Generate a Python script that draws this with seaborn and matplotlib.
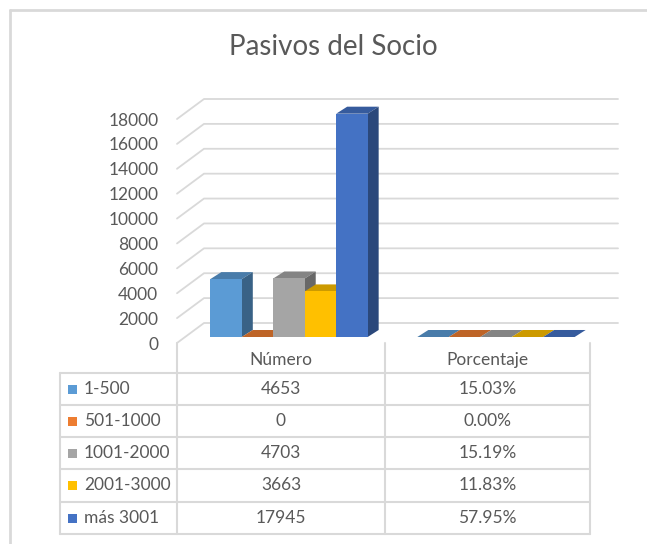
import matplotlib
matplotlib.use("Agg")
import matplotlib.pyplot as plt
import matplotlib.colors as mcolors
import numpy as np
import pandas as pd
import seaborn as sns
from matplotlib.patches import Polygon, Rectangle

# data
rangos = ["1-500", "501-1000", "1001-2000", "2001-3000", "más 3001"]
numero = [4653, 0, 4703, 3663, 17945]
porcentaje = [15.03, 0.00, 15.19, 11.83, 57.95]
medidas = ["Número", "Porcentaje"]
colores = ["#5B9BD5", "#ED7D31", "#A5A5A5", "#FFC000", "#4472C4"]
yticks = list(range(0, 18001, 2000))

W, H = 647, 544
sns.set_theme(style="white")
plt.rcParams["font.family"] = ["Lato", "DejaVu Sans"]
gris = "#595959"
linea = "#D9D9D9"

fig = plt.figure(figsize=(W / 100, H / 100), dpi=100)


def fx(px):
    return px / W


def fy(py):
    return 1 - py / H


# front plane of the plot area, in pixels
ax_l, ax_r, ax_b, ax_t = 177, 618, 343, 93
px_per_val = 224 / 18000
cat_px = 207
ytop = (ax_b - ax_t) / px_per_val
xlo = -(281 - ax_l) / cat_px
xhi = xlo + (ax_r - ax_l) / cat_px

ax = fig.add_axes([fx(ax_l), fy(ax_b), (ax_r - ax_l) / W, (ax_b - ax_t) / H])
ax.patch.set_alpha(0)

df = pd.DataFrame({
    "medida": np.repeat(medidas, len(rangos)),
    "rango": rangos * len(medidas),
    "valor": numero + [p / 100 for p in porcentaje],
})
sns.barplot(data=df, x="medida", y="valor", hue="rango", order=medidas,
            hue_order=rangos, palette=colores, saturation=1, width=0.76,
            linewidth=0, errorbar=None, legend=False, ax=ax)

ax.set_xlim(xlo, xhi)
ax.set_ylim(0, ytop)
ax.set_xticks([])
ax.set_xlabel("")
ax.set_ylabel("")
ax.set_yticks(yticks)
ax.set_yticklabels([str(v) for v in yticks])
ax.tick_params(axis="y", length=0, pad=13.5, labelsize=12.5, labelcolor=gris)
for s in ax.spines.values():
    s.set_visible(False)

# walls: side wall diagonal + back wall gridlines
back_dx, back_dy = 27 / cat_px, 20 / px_per_val
for v in yticks:
    ax.plot([xlo, xlo + back_dx, xhi], [v, v + back_dy, v + back_dy],
            color=linea, lw=1.3, zorder=1, clip_on=False)

# 3d look for the bars
sx, sy = 8 / cat_px, 6 / px_per_val
ddx, ddy = 11 / cat_px, 7 / px_per_val
for j, cont in enumerate(ax.containers):
    base = np.array(mcolors.to_rgb(colores[j]))
    z = 10 + 3 * j
    for bar in cont:
        x0 = bar.get_x() + sx
        w = bar.get_width()
        y0 = sy
        y1 = bar.get_height() + sy
        bar.set_xy((x0, y0))
        bar.set_zorder(z + 1)
        bar.set_clip_on(False)
        top = Polygon([(x0, y1), (x0 + ddx, y1 + ddy), (x0 + w + ddx, y1 + ddy), (x0 + w, y1)],
                      closed=True, fc=base * 0.8, ec="none", zorder=z, clip_on=False)
        side = Polygon([(x0 + w, y0), (x0 + w + ddx, y0 + ddy), (x0 + w + ddx, y1 + ddy), (x0 + w, y1)],
                       closed=True, fc=base * 0.63, ec="none", zorder=z, clip_on=False)
        ax.add_patch(top)
        ax.add_patch(side)

fig.text(fx(333), fy(47), "Pasivos del Socio", ha="center", va="center",
         fontsize=20, color=gris)

# data table under the chart
tab = fig.add_axes([0, 0, 1, 1], zorder=-1)
tab.set_xlim(0, W)
tab.set_ylim(H, 0)
tab.axis("off")

cols = [60, 177, 385, 590]
rows = [343, 373, 405, 437, 469, 502, 534]
lw = 1.5
tab.plot([cols[0], cols[0]], [rows[1], rows[-1]], color=linea, lw=lw)
for c in cols[1:]:
    tab.plot([c, c], [rows[0], rows[-1]], color=linea, lw=lw)
for r in rows[1:]:
    tab.plot([cols[0], cols[-1]], [r, r], color=linea, lw=lw)

for k, m in enumerate(medidas):
    tab.text((cols[k + 1] + cols[k + 2]) / 2, (rows[0] + rows[1]) / 2 + 2, m,
             ha="center", va="center", fontsize=12.5, color=gris)

for i, r in enumerate(rangos):
    yc = (rows[i + 1] + rows[i + 2]) / 2
    tab.add_patch(Rectangle((68, yc - 4.5), 9, 9, fc=colores[i], ec="none"))
    tab.text(84, yc, r, ha="left", va="center", fontsize=12.5, color=gris)
    tab.text((cols[1] + cols[2]) / 2, yc, str(numero[i]), ha="center",
             va="center", fontsize=12.5, color=gris)
    tab.text((cols[2] + cols[3]) / 2, yc, f"{porcentaje[i]:.2f}%", ha="center",
             va="center", fontsize=12.5, color=gris)

# chart area border
tab.plot([10, 10], [H, 10], color=linea, lw=2)
tab.plot([10, W], [10, 10], color=linea, lw=2)

fig.savefig("out.png", dpi=100)
